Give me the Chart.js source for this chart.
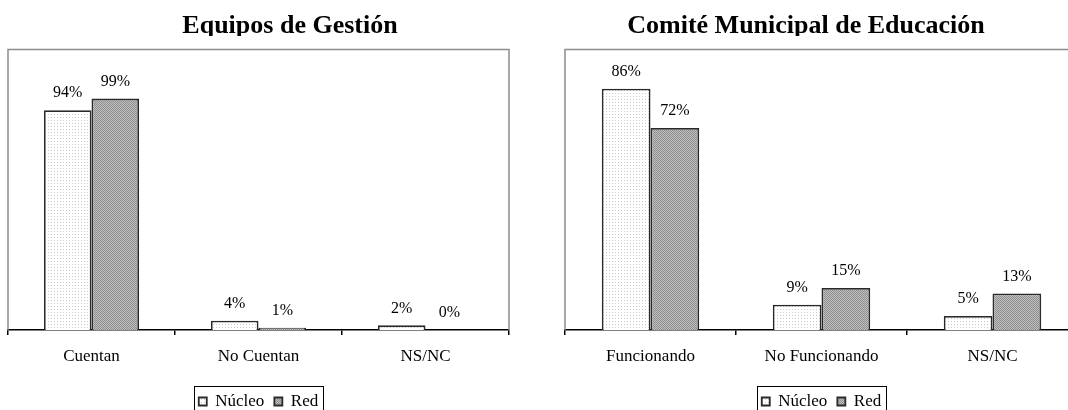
<!DOCTYPE html>
<html><head><meta charset="utf-8">
<script src="https://cdn.jsdelivr.net/npm/chart.js@4.4.1/dist/chart.umd.min.js"></script>
<style>
html,body{margin:0;padding:0;background:#fff;overflow:hidden;width:1068px;height:410px;}
#wrap{position:relative;width:1068px;height:410px;overflow:hidden;}
#c1{position:absolute;left:0;top:0;}
#c2{position:absolute;left:534px;top:0;}
</style></head><body>
<div id="wrap"><canvas id="c1" width="580" height="420"></canvas><canvas id="c2" width="544" height="420"></canvas></div>
<script>
// ---- data ----
const seriesNames = ['Núcleo', 'Red'];

const gestionTitle = 'Equipos de Gestión';
const gestionCategories = ['Cuentan', 'No Cuentan', 'NS/NC'];
const gestionNucleo = [94, 4, 2];
const gestionRed = [99, 1, 0];
const gestionAxisMax = 120;

const comiteTitle = 'Comité Municipal de Educación';
const comiteCategories = ['Funcionando', 'No Funcionando', 'NS/NC'];
const comiteNucleo = [86, 9, 5];
const comiteRed = [72, 15, 13];
const comiteAxisMax = 100;

// ---- styling ----
const FONT = '"Liberation Serif", "Times New Roman", serif';
const TITLE_SIZE = 26;
const TITLE_PAD = {top: 10.6, bottom: 7.7};

function makePattern(base, dot, size, cells) {
  const c = document.createElement('canvas');
  c.width = c.height = size;
  const x = c.getContext('2d');
  x.fillStyle = base; x.fillRect(0, 0, size, size);
  x.fillStyle = dot;
  cells.forEach(([i, j]) => x.fillRect(i, j, 1, 1));
  return x.createPattern(c, 'repeat');
}
const nucleoFill = makePattern('#ffffff', '#c8c8c8', 3, [[0, 0]]);
const redFill = makePattern('#c0c0c0', '#8e8e8e', 2, [[0, 0], [1, 1]]);

const decorPlugin = {
  id: 'decor',
  beforeDatasetsDraw(chart) {
    const {ctx, chartArea: a} = chart;
    ctx.save();
    ctx.strokeStyle = '#8c8c8c';
    ctx.lineWidth = 1.5;
    ctx.beginPath();
    ctx.moveTo(a.left, a.bottom); ctx.lineTo(a.left, a.top);
    ctx.lineTo(a.right, a.top); ctx.lineTo(a.right, a.bottom);
    ctx.stroke();
    ctx.restore();
  },
  afterDatasetsDraw(chart) {
    const ctx = chart.ctx;
    ctx.save();
    ctx.font = '16px ' + FONT;
    ctx.fillStyle = '#000';
    ctx.textAlign = 'center';
    ctx.textBaseline = 'middle';
    chart.data.datasets.forEach((ds, i) => {
      chart.getDatasetMeta(i).data.forEach((el, j) => {
        ctx.fillText(ds.data[j] + '%', el.x, el.y - 17);
      });
    });
    ctx.restore();
  },
  afterDraw(chart) {
    const ctx = chart.ctx;
    const a = chart.chartArea;
    // title clipped just under its baseline, as in the source picture
    const t = chart.titleBlock;
    const baseline = t.top + TITLE_PAD.top + TITLE_SIZE * 1.2 / 2 + TITLE_SIZE * 0.3375;
    ctx.save();
    ctx.fillStyle = '#fff';
    ctx.fillRect(t.left, baseline + 1, t.right - t.left, a.top - 2 - (baseline + 1));
    // legend frame
    const hb = chart.legend.legendHitBoxes;
    if (hb && hb.length) {
      const l = Math.round(hb[0].left - 5);
      const r = Math.round(hb[hb.length - 1].left + hb[hb.length - 1].width + 5);
      const top = Math.round(hb[0].top - 7);
      ctx.strokeStyle = '#000';
      ctx.lineWidth = 1;
      ctx.strokeRect(l + 0.5, top + 0.5, r - l, 60);
    }
    ctx.restore();
  }
};

function buildChart(id, title, cats, nuc, red, axisMax, leftW, rightW) {
  const scales = {
    x: {
      grid: {display: true, drawOnChartArea: false, drawTicks: true, tickLength: 5, color: '#000', lineWidth: 1.5, offset: true},
      border: {display: true, color: '#000', width: 1.5},
      ticks: {font: {family: FONT, size: 17}, color: '#000', padding: 11, maxRotation: 0, autoSkip: false},
      afterFit(s) { s.height = 53; }
    },
    y: {
      min: 0, max: axisMax, display: true,
      grid: {display: false}, ticks: {display: false}, border: {display: false},
      afterFit(s) { s.width = leftW; }
    }
  };
  if (rightW > 0) {
    scales.yR = {
      type: 'linear', position: 'right', display: true,
      grid: {display: false}, ticks: {display: false}, border: {display: false},
      afterFit(s) { s.width = rightW; }
    };
  }
  return new Chart(document.getElementById(id), {
    type: 'bar',
    data: {
      labels: cats,
      datasets: [
        {label: seriesNames[0], data: nuc, backgroundColor: nucleoFill, borderColor: '#2a2a2a', borderWidth: 1.8,
         categoryPercentage: 0.57, barPercentage: 1.0},
        {label: seriesNames[1], data: red, backgroundColor: redFill, borderColor: '#2a2a2a', borderWidth: 1.8,
         categoryPercentage: 0.57, barPercentage: 1.0}
      ]
    },
    options: {
      responsive: false,
      animation: false,
      layout: {padding: 0},
      scales,
      plugins: {
        title: {display: true, text: title, color: '#000',
                font: {family: FONT, size: TITLE_SIZE, weight: 'bold', lineHeight: 1.2},
                padding: TITLE_PAD},
        legend: {display: true, position: 'bottom', fullSize: false,
                 labels: {font: {family: FONT, size: 17}, color: '#000', boxWidth: 8, boxHeight: 8, padding: 10}},
        tooltip: {enabled: false}
      }
    },
    plugins: [decorPlugin]
  });
}

buildChart('c1', gestionTitle, gestionCategories, gestionNucleo, gestionRed, gestionAxisMax, 8, 71);
buildChart('c2', comiteTitle, comiteCategories, comiteNucleo, comiteRed, comiteAxisMax, 31, 0);
</script>
</body></html>
